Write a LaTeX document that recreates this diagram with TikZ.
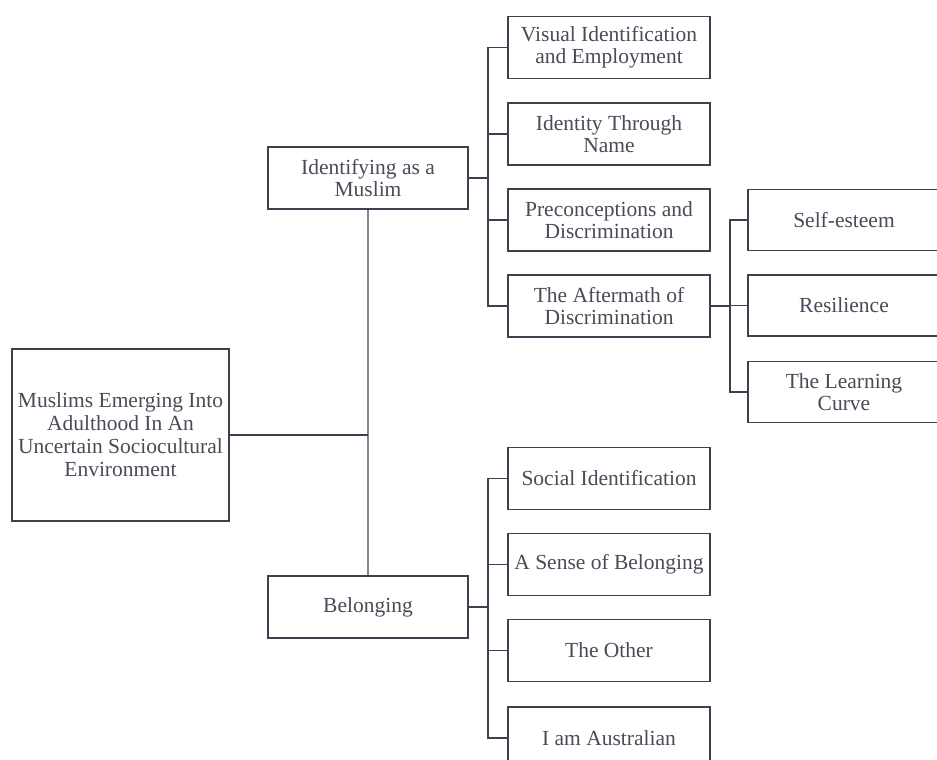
\documentclass[tikz,border=0pt]{standalone}
\usepackage{fontspec}
\setmainfont{Liberation Serif}
\definecolor{linec}{HTML}{3A4250}
\definecolor{trunkc}{HTML}{80858E}
\definecolor{textc}{HTML}{474C58}
\begin{document}
\begin{tikzpicture}[x=1pt,y=-1pt,
  box/.style={draw=linec,line width=1.7pt,fill=white,text=textc,align=center,inner sep=0pt,
    font=\fontsize{21.5}{22.5}\selectfont},
  lvone/.style={box,minimum width=200,minimum height=62},
  lvtwo/.style={box,minimum width=202,minimum height=62},
  lvthree/.style={box,minimum width=192,minimum height=61},
  conn/.style={draw=linec,line width=1.7pt},
  trunk/.style={draw=trunkc,line width=1.7pt}]
\useasboundingbox (0,0) rectangle (937,760);
\clip (0,0) rectangle (937,760);
% root
\node[box,minimum width=217,minimum height=172,font=\fontsize{21.5}{23}\selectfont] (root) at (120.5,435)
  {Muslims Emerging Into\\Adulthood In An\\Uncertain Sociocultural\\Environment};
% level 1
\node[lvone] (ident) at (368,178) {Identifying as a\\Muslim};
\node[lvone] (belong) at (368,607) {Belonging};
% level 2 (identifying)
\node[lvtwo] (visual) at (609,47.5) {Visual Identification\\and Employment};
\node[lvtwo] (name) at (609,134) {Identity Through\\Name};
\node[lvtwo] (precon) at (609,220) {Preconceptions and\\Discrimination};
\node[lvtwo] (after) at (609,306) {The Aftermath of\\Discrimination};
% level 2 (belonging)
\node[lvtwo] (social) at (609,478.5) {Social Identification};
\node[lvtwo] (sense) at (609,564.5) {A Sense of Belonging};
\node[lvtwo] (other) at (609,650.5) {The Other};
\node[lvtwo] (aus) at (609,738) {I am Australian};
% level 3
\node[lvthree] (self) at (844,220) {Self-esteem};
\node[lvthree] (resil) at (844,305.5) {Resilience};
\node[lvthree] (learn) at (844,392) {The Learning\\Curve};
% junction coordinates
\coordinate (jroot) at (368,435);
\coordinate (jident) at (488,178);
\coordinate (jbelong) at (488,607);
\coordinate (jafter) at (730,306);
% connectors
\path[trunk] (ident.south) -- (belong.north);
\path[conn] (root.east) -- (jroot);
\path[conn] (ident.east) -- (jident);
\path[conn] (visual.west) -| (jident) |- (after.west);
\path[conn] (jident |- name.west) -- (name.west);
\path[conn] (jident |- precon.west) -- (precon.west);
\path[conn] (belong.east) -- (jbelong);
\path[conn] (social.west) -| (jbelong) |- (aus.west);
\path[conn] (jbelong |- sense.west) -- (sense.west);
\path[conn] (jbelong |- other.west) -- (other.west);
\path[conn] (after.east) -- (jafter);
\path[conn] (self.west) -| (jafter) |- (learn.west);
\path[conn] (jafter |- resil.west) -- (resil.west);
\end{tikzpicture}
\end{document}
